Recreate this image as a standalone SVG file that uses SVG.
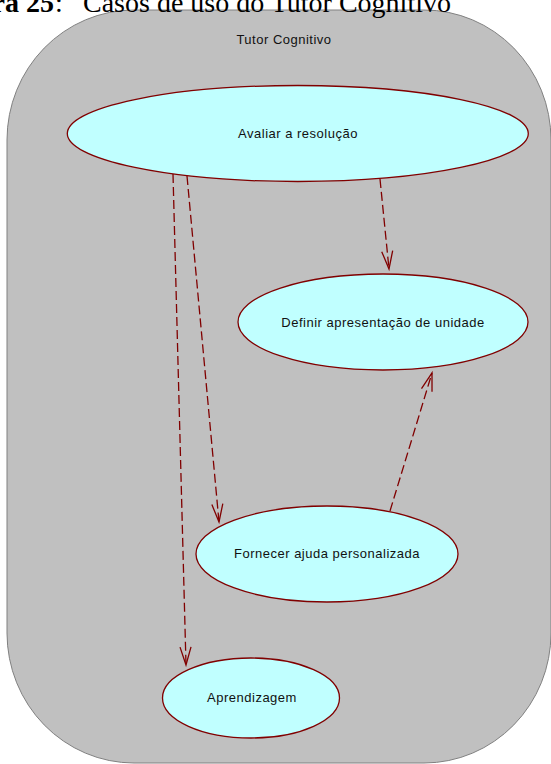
<svg xmlns="http://www.w3.org/2000/svg" width="551" height="764" viewBox="0 0 551 764">
<style>
.uc{fill:#c0ffff;stroke:#800000;stroke-width:1.3}
.lbl{font-family:"Liberation Sans",Arial,sans-serif;font-size:13px;letter-spacing:0.5px;fill:#111;text-anchor:middle}
.dep{fill:none;stroke:#800000;stroke-width:1.3;stroke-dasharray:9 4;marker-end:url(#open)}
.cap{font-family:"Liberation Serif","Times New Roman",serif;font-size:28px;fill:#000}
</style>
<defs>
<marker id="open" markerUnits="userSpaceOnUse" markerWidth="24" markerHeight="16" refX="0" refY="0" viewBox="-20 -8 24 16" orient="auto">
<path d="M-18,-5.5 L0,0 L-18,5.5" fill="none" stroke="#800000" stroke-width="1.3"/>
</marker>
</defs>
<g id="system">
<rect x="7" y="10" width="544" height="753" rx="127" ry="130" fill="#c0c0c0" stroke="#808080" stroke-width="1"/>
<text class="lbl" x="284" y="44">Tutor Cognitivo</text>
</g>
<g id="caption">
<text class="cap" x="54" y="12" text-anchor="end" font-weight="bold">ra 25</text>
<text class="cap" x="55" y="12">:</text>
<text class="cap" x="83" y="12">Casos de uso do Tutor Cognitivo</text>
</g>
<g id="avaliar">
<ellipse class="uc" cx="297.8" cy="133.5" rx="230.5" ry="48"/>
<text class="lbl" x="298" y="138">Avaliar a resolução</text>
</g>
<g id="definir">
<ellipse class="uc" cx="383" cy="322" rx="145" ry="48"/>
<text class="lbl" x="383" y="327">Definir apresentação de unidade</text>
</g>
<g id="fornecer">
<ellipse class="uc" cx="327" cy="554" rx="131" ry="48"/>
<text class="lbl" x="327" y="558">Fornecer ajuda personalizada</text>
</g>
<g id="aprendizagem">
<ellipse class="uc" cx="251" cy="698" rx="88.5" ry="40"/>
<text class="lbl" x="252" y="702">Aprendizagem</text>
</g>
<g id="connectors">
<line class="dep" x1="173" y1="174" x2="186" y2="665"/>
<line class="dep" x1="187" y1="176" x2="219" y2="522"/>
<line class="dep" x1="380" y1="179" x2="389" y2="269"/>
<line class="dep" x1="390" y1="511" x2="432" y2="373"/>
</g>
</svg>
